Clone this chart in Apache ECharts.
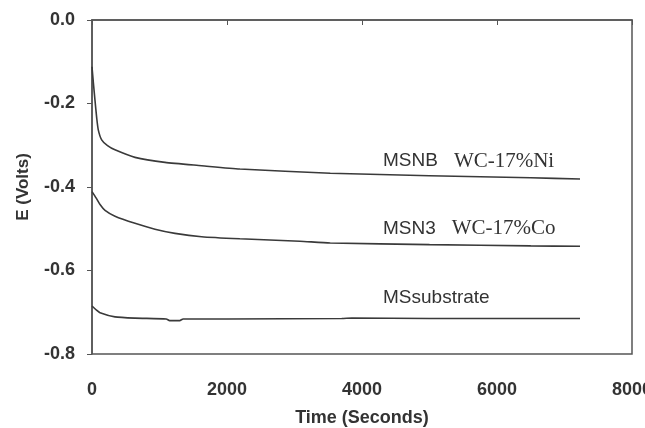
<!DOCTYPE html>
<html>
<head>
<meta charset="utf-8">
<script src="https://cdn.jsdelivr.net/npm/echarts@6/dist/echarts.min.js"></script>
<style>
  html, body { margin: 0; padding: 0; background: #fff; }
  #chart { width: 645px; height: 428px; }
</style>
</head>
<body>
<div id="chart"></div>
<script>
// readings (time in seconds, E in volts)
const tNi = [0, 20, 44, 70, 93, 143, 230, 340, 637, 1081, 1624, 2190, 3530, 5000, 6500, 7230]
const eNi = [-0.112, -0.15, -0.192, -0.235, -0.263, -0.287, -0.301, -0.311, -0.329, -0.341, -0.349, -0.357, -0.367, -0.373, -0.378, -0.381]

const tCo = [0, 60, 119, 193, 341, 637, 933, 1230, 1624, 2190, 3080, 3530, 5000, 6500, 7230]
const eCo = [-0.411, -0.426, -0.442, -0.456, -0.470, -0.487, -0.501, -0.511, -0.519, -0.524, -0.530, -0.534, -0.538, -0.541, -0.542]

const tSub = [0, 60, 119, 341, 637, 1100, 1150, 1300, 1350, 2000, 3700, 3850, 5000, 6500, 7230]
const eSub = [-0.685, -0.694, -0.701, -0.711, -0.714, -0.716, -0.720, -0.720, -0.716, -0.716, -0.715, -0.714, -0.715, -0.715, -0.715]

const xTicks = [0, 2000, 4000, 6000, 8000]
const yTicks = [-0.8, -0.6, -0.4, -0.2, 0.0]

const pair = (t, e) => t.map((v, i) => [v, e[i]])

const sans = 'Liberation Sans, Arial, sans-serif'
const serif = 'Liberation Serif, Times New Roman, serif'

function note(x, y, main, extra) {
  return {
    coord: [x, y],
    symbolSize: 0,
    label: {
      show: true,
      position: 'right',
      distance: 0,
      formatter: extra ? '{a|' + main + '}{b|' + extra + '}' : '{a|' + main + '}',
      rich: {
        a: { fontFamily: sans, fontSize: 19, color: '#333' },
        b: { fontFamily: serif, fontSize: 21, color: '#333', padding: [0, 0, 0, 16] }
      }
    }
  }
}

const chart = echarts.init(document.getElementById('chart'))
const lineStyle = { color: '#3a3a3a', width: 1.6 }

chart.setOption({
  animation: false,
  grid: {
    left: 92, right: 13, top: 20, bottom: 74,
    outerBoundsMode: 'none',
    show: true, borderColor: '#555', borderWidth: 1.5
  },
  xAxis: {
    type: 'value', min: 0, max: 8000, interval: 2000,
    name: 'Time (Seconds)', nameLocation: 'middle', nameGap: 55,
    nameTextStyle: { fontFamily: sans, fontWeight: 'bold', fontSize: 18, color: '#333' },
    axisLine: { show: true, lineStyle: { color: '#555', width: 1.5 } },
    axisTick: { show: true, length: 5, lineStyle: { color: '#555' } },
    axisLabel: {
      fontFamily: sans, fontWeight: 'bold', fontSize: 18, color: '#333', margin: 27,
      showMaxLabel: true,
      formatter: v => String(v),
      customValues: xTicks
    },
    splitLine: { show: false }
  },
  yAxis: {
    type: 'value', min: -0.8, max: 0, interval: 0.2,
    name: 'E (Volts)', nameLocation: 'middle', nameGap: 60, nameRotate: 90,
    nameTextStyle: { fontFamily: sans, fontWeight: 'bold', fontSize: 17, color: '#333' },
    axisLine: { show: true, lineStyle: { color: '#555', width: 1.5 } },
    axisTick: { show: true, length: 5, lineStyle: { color: '#555' } },
    axisLabel: {
      fontFamily: sans, fontWeight: 'bold', fontSize: 18, color: '#333', margin: 17,
      formatter: v => v.toFixed(1),
      customValues: yTicks
    },
    splitLine: { show: false }
  },
  series: [
    {
      name: 'MSNB', type: 'line', smooth: 0.2, showSymbol: false,
      data: pair(tNi, eNi), lineStyle,
      markPoint: { data: [note(4311, -0.338, 'MSNB', 'WC-17%Ni')] }
    },
    {
      name: 'MSN3', type: 'line', smooth: 0.2, showSymbol: false,
      data: pair(tCo, eCo), lineStyle,
      markPoint: { data: [note(4311, -0.5, 'MSN3', 'WC-17%Co')] }
    },
    {
      name: 'MSsubstrate', type: 'line', smooth: 0.2, showSymbol: false,
      data: pair(tSub, eSub), lineStyle,
      markPoint: { data: [note(4311, -0.666, 'MSsubstrate')] }
    }
  ]
})
</script>
</body>
</html>
